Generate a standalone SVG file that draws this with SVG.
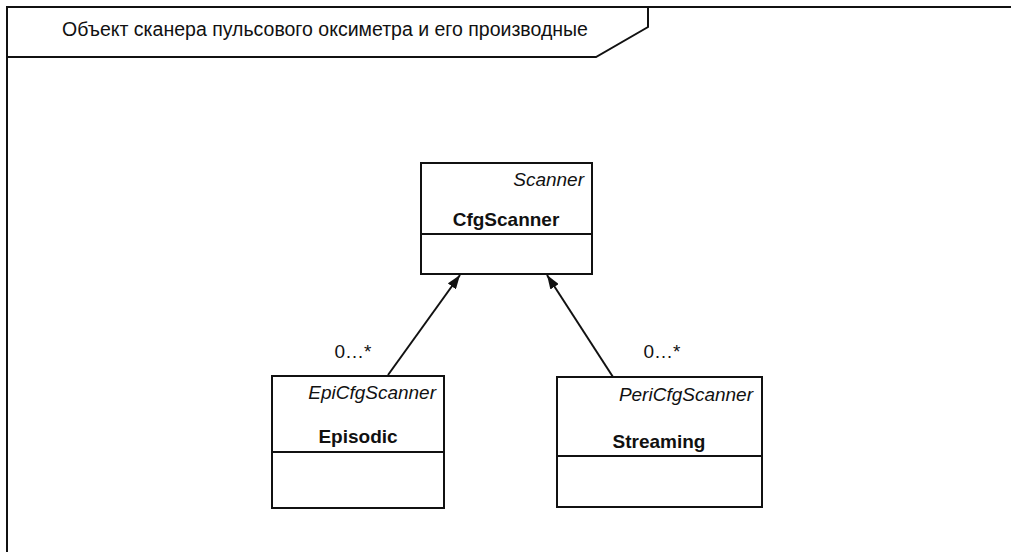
<svg xmlns="http://www.w3.org/2000/svg" width="1011" height="552" viewBox="0 0 1011 552">
<style>
text{font-family:"Liberation Sans",Arial,sans-serif;fill:#111}
.st{font-style:italic;font-size:19px;text-anchor:end}
.nm{font-weight:bold;font-size:19px;text-anchor:middle}
.box{fill:#fff;stroke:#111;stroke-width:2}
.ln{stroke:#111;stroke-width:2;fill:none}
.lbl{font-size:19px;text-anchor:middle}
</style>
<defs>
<marker id="ah" viewBox="0 0 14 10" refX="14" refY="5" markerWidth="7" markerHeight="5" orient="auto" markerUnits="strokeWidth">
<path d="M0,0 L14,5 L0,10 z" fill="#111"/>
</marker>
</defs>
<rect width="1011" height="552" fill="#fff"/>
<g id="frame">
<path class="ln" d="M1011,7 L7,7 L7,552"/>
<path class="ln" d="M7,57 L596,57 L648,27 L648,7"/>
<text x="325" y="36" style="font-size:19.5px;text-anchor:middle">Объект сканера пульсового оксиметра и его производные</text>
</g>
<g id="connectors">
<line class="ln" x1="388" y1="375" x2="460" y2="275" marker-end="url(#ah)"/>
<line class="ln" x1="613" y1="377" x2="547" y2="275" marker-end="url(#ah)"/>
<text class="lbl" x="353" y="358">0…*</text>
<text class="lbl" x="662" y="358">0…*</text>
</g>
<g id="cfgscanner">
<rect class="box" x="421" y="163" width="171" height="111"/>
<line class="ln" x1="421" y1="234" x2="592" y2="234"/>
<text class="st" x="584" y="186">Scanner</text>
<text class="nm" x="506" y="226">CfgScanner</text>
</g>
<g id="episodic">
<rect class="box" x="272" y="376" width="172" height="132"/>
<line class="ln" x1="272" y1="452" x2="444" y2="452"/>
<text class="st" x="436" y="399">EpiCfgScanner</text>
<text class="nm" x="358" y="443">Episodic</text>
</g>
<g id="streaming">
<rect class="box" x="557" y="377" width="205" height="130"/>
<line class="ln" x1="557" y1="456" x2="762" y2="456"/>
<text class="st" x="753" y="401">PeriCfgScanner</text>
<text class="nm" x="659" y="448">Streaming</text>
</g>
</svg>
